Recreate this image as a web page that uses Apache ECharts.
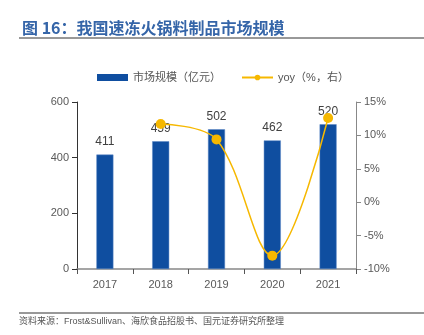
<!DOCTYPE html>
<html><head><meta charset="utf-8">
<script src="https://cdn.jsdelivr.net/npm/echarts@6/dist/echarts.min.js"></script>
<style>html,body{margin:0;padding:0;background:#fff}#c{width:424px;height:335px}</style>
</head><body><div id="c"></div>
<script>
var categories = ['2017','2018','2019','2020','2021'];
var marketSize = [411, 459, 502, 462, 520];
var yoy = [null, 11.7, 9.4, -8.0, 12.6];
var leftTicks = [0, 200, 400, 600];
var rightTicks = [-10, -5, 0, 5, 10, 15];

var FONT = '"Liberation Sans", Arial, "Noto Sans CJK SC", sans-serif';
var chart = echarts.init(document.getElementById('c'));
chart.setOption({
  animation: false,
  backgroundColor: '#fff',
  title: {
    text: '图 16：我国速冻火锅料制品市场规模',
    left: 17, top: 15,
    textStyle: { fontFamily: '"Noto Sans CJK SC", sans-serif', fontSize: 16, fontWeight: 'bold', color: '#3565a8' }
  },
  graphic: [
    { type: 'line', shape: { x1: 19, y1: 38, x2: 424, y2: 38 }, style: { stroke: '#333', lineWidth: 1 } },
    { type: 'line', shape: { x1: 19, y1: 313, x2: 424, y2: 313 }, style: { stroke: '#333', lineWidth: 1 } },
    { type: 'text', left: 19, top: 317, style: { text: '资料来源：Frost&Sullivan、海欣食品招股书、国元证券研究所整理', fontSize: 9, fill: '#555', fontFamily: FONT } }
  ],
  legend: {
    top: 67, left: 92, itemGap: 20, itemWidth: 31, itemHeight: 7,
    textStyle: { fontSize: 11, color: '#555', fontFamily: FONT },
    data: [
      { name: '市场规模（亿元）', icon: 'rect', itemStyle: { borderWidth: 0 } },
      { name: 'yoy（%，右）' }
    ]
  },
  grid: { left: 77, right: 68, top: 102, bottom: 66 },
  xAxis: {
    type: 'category', data: categories,
    axisLine: { lineStyle: { color: '#888', width: 1.5 } },
    axisTick: { show: true, alignWithLabel: false, lineStyle: { color: '#555' } },
    axisLabel: { color: '#595959', fontSize: 11, fontFamily: FONT, margin: 10 }
  },
  yAxis: [
    { type: 'value', min: 0, max: 600, interval: 200,
      axisLine: { show: true, lineStyle: { color: '#333' } },
      axisTick: { show: true, lineStyle: { color: '#333' } },
      splitLine: { show: false },
      axisLabel: { color: '#595959', fontSize: 11, fontFamily: FONT, margin: 8 } },
    { type: 'value', min: -10, max: 15, interval: 5,
      axisLine: { show: true, lineStyle: { color: '#888' } },
      axisTick: { show: true, lineStyle: { color: '#888' } },
      splitLine: { show: false },
      axisLabel: { color: '#595959', fontSize: 11, fontFamily: FONT, margin: 8, formatter: '{value}%' } }
  ],
  series: [
    { name: '市场规模（亿元）', type: 'bar', data: marketSize, barWidth: 17,
      itemStyle: { color: '#0f4ea0', borderColor: '#5b86c4', borderWidth: 0.5 },
      label: { show: true, position: 'top', distance: 7, color: '#404040', fontSize: 12, fontFamily: FONT } },
    { name: 'yoy（%，右）', type: 'line', yAxisIndex: 1, data: yoy, smooth: 0.35,
      symbol: 'circle', symbolSize: 10, z: 3,
      lineStyle: { color: '#f6b800', width: 1.5 },
      itemStyle: { color: '#f6b800' } }
  ]
});
</script></body></html>
